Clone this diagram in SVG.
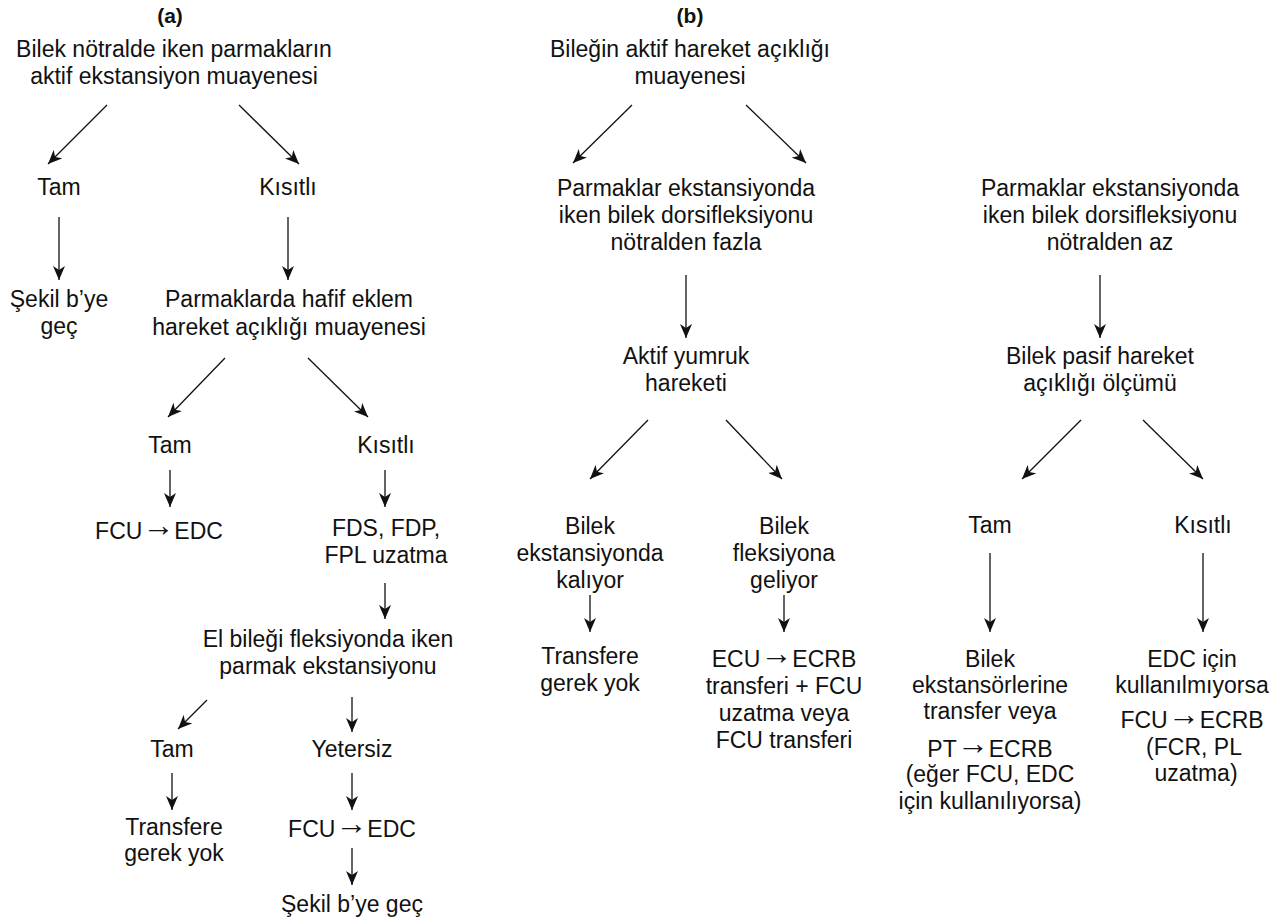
<svg xmlns="http://www.w3.org/2000/svg" width="1279" height="920" viewBox="0 0 1279 920">
<style>
  text { font-family: "Liberation Sans", Arial, sans-serif; font-size: 23px; fill: #111; text-anchor: middle; }
  .ttl { font-weight: bold; font-size: 21px; }
  .ar { font-size: 32px; }
  .rs { font-size: 23px; }
  .conn line { stroke: #111; stroke-width: 1.3; fill: none; marker-end: url(#ah); }
</style>
<defs>
  <marker id="ah" viewBox="0 0 14 12" refX="14" refY="6" markerWidth="14" markerHeight="12" markerUnits="userSpaceOnUse" orient="auto">
    <path d="M0,0 L14,6 L0,12 L4,6 z" fill="#111"/>
  </marker>
</defs>
<rect width="1279" height="920" fill="#fff"/>

<g id="titles">
  <text class="ttl" x="170" y="23">(a)</text>
  <text class="ttl" x="690" y="23">(b)</text>
</g>

<!-- Panel (a) -->
<g id="a1"><text x="174" y="57">Bilek nötralde iken parmakların</text><text x="174" y="84">aktif ekstansiyon muayenesi</text></g>
<g id="a2"><text x="59" y="195">Tam</text></g>
<g id="a3"><text x="288" y="195">Kısıtlı</text></g>
<g id="a4"><text x="59" y="307">Şekil b’ye</text><text x="59" y="334">geç</text></g>
<g id="a5"><text x="289" y="307">Parmaklarda hafif eklem</text><text x="289" y="335">hareket açıklığı muayenesi</text></g>
<g id="a6"><text x="170" y="453">Tam</text></g>
<g id="a7"><text x="386" y="453">Kısıtlı</text></g>
<g id="a8"><text x="159" y="539">FCU<tspan class="ar" dy="-3">→</tspan><tspan class="rs" dy="3">EDC</tspan></text></g>
<g id="a9"><text x="386" y="536">FDS, FDP,</text><text x="386" y="563">FPL uzatma</text></g>
<g id="a10"><text x="328" y="647">El bileği fleksiyonda iken</text><text x="328" y="674">parmak ekstansiyonu</text></g>
<g id="a11"><text x="172" y="757">Tam</text></g>
<g id="a12"><text x="352" y="757">Yetersiz</text></g>
<g id="a13"><text x="174" y="835">Transfere</text><text x="174" y="861">gerek yok</text></g>
<g id="a14"><text x="352" y="837">FCU<tspan class="ar" dy="-3">→</tspan><tspan class="rs" dy="3">EDC</tspan></text></g>
<g id="a15"><text x="352" y="912">Şekil b’ye geç</text></g>

<!-- Panel (b) -->
<g id="b1"><text x="690" y="57">Bileğin aktif hareket açıklığı</text><text x="690" y="84">muayenesi</text></g>
<g id="b2"><text x="686" y="196">Parmaklar ekstansiyonda</text><text x="686" y="223">iken bilek dorsifleksiyonu</text><text x="686" y="250">nötralden fazla</text></g>
<g id="b3"><text x="1110" y="196">Parmaklar ekstansiyonda</text><text x="1110" y="223">iken bilek dorsifleksiyonu</text><text x="1110" y="250">nötralden az</text></g>
<g id="b4"><text x="686" y="364">Aktif yumruk</text><text x="686" y="391">hareketi</text></g>
<g id="b5"><text x="590" y="534">Bilek</text><text x="590" y="561">ekstansiyonda</text><text x="590" y="588">kalıyor</text></g>
<g id="b6"><text x="784" y="534">Bilek</text><text x="784" y="561">fleksiyona</text><text x="784" y="588">geliyor</text></g>
<g id="b7"><text x="590" y="664">Transfere</text><text x="590" y="691">gerek yok</text></g>
<g id="b8"><text x="784" y="667">ECU<tspan class="ar" dy="-3">→</tspan><tspan class="rs" dy="3">ECRB</tspan></text><text x="784" y="694">transferi + FCU</text><text x="784" y="721">uzatma veya</text><text x="784" y="748">FCU transferi</text></g>
<g id="b9"><text x="1100" y="364">Bilek pasif hareket</text><text x="1100" y="391">açıklığı ölçümü</text></g>
<g id="b10"><text x="990" y="533">Tam</text></g>
<g id="b11"><text x="1203" y="533">Kısıtlı</text></g>
<g id="b12"><text x="990" y="667">Bilek</text><text x="990" y="693">ekstansörlerine</text><text x="990" y="719">transfer veya</text><text x="990" y="757">PT<tspan class="ar" dy="-3">→</tspan><tspan class="rs" dy="3">ECRB</tspan></text><text x="990" y="782">(eğer FCU, EDC</text><text x="990" y="809">için kullanılıyorsa)</text></g>
<g id="b13"><text x="1192" y="667">EDC için</text><text x="1192" y="693">kullanılmıyorsa</text><text x="1192" y="728">FCU<tspan class="ar" dy="-3">→</tspan><tspan class="rs" dy="3">ECRB</tspan></text><text x="1194" y="755">(FCR, PL</text><text x="1196" y="781">uzatma)</text></g>

<g id="connectors" class="conn">
  <line x1="107" y1="105" x2="48" y2="164"/>
  <line x1="239" y1="105" x2="299" y2="164"/>
  <line x1="59" y1="217" x2="59" y2="280"/>
  <line x1="288" y1="217" x2="288" y2="280"/>
  <line x1="225" y1="358" x2="168" y2="417"/>
  <line x1="308" y1="358" x2="368" y2="417"/>
  <line x1="170" y1="470" x2="170" y2="507"/>
  <line x1="385" y1="470" x2="385" y2="507"/>
  <line x1="385" y1="583" x2="385" y2="619"/>
  <line x1="207" y1="700" x2="178" y2="729"/>
  <line x1="352" y1="697" x2="352" y2="732"/>
  <line x1="172" y1="773" x2="172" y2="810"/>
  <line x1="352" y1="773" x2="352" y2="810"/>
  <line x1="352" y1="848" x2="352" y2="885"/>

  <line x1="632" y1="105" x2="573" y2="163"/>
  <line x1="746" y1="105" x2="806" y2="163"/>
  <line x1="686" y1="275" x2="686" y2="338"/>
  <line x1="1100" y1="275" x2="1100" y2="338"/>
  <line x1="648" y1="420" x2="590" y2="479"/>
  <line x1="726" y1="420" x2="782" y2="479"/>
  <line x1="590" y1="595" x2="590" y2="632"/>
  <line x1="784" y1="595" x2="784" y2="632"/>
  <line x1="1081" y1="420" x2="1022" y2="479"/>
  <line x1="1143" y1="420" x2="1203" y2="479"/>
  <line x1="990" y1="553" x2="990" y2="632"/>
  <line x1="1203" y1="553" x2="1203" y2="632"/>
</g>
</svg>
